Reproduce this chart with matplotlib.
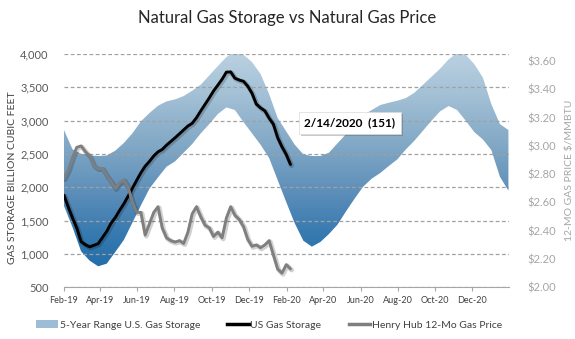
import numpy as np
import pandas as pd
import matplotlib
matplotlib.use('Agg')
import matplotlib.pyplot as plt
import matplotlib.dates as mdates
import matplotlib.patheffects as pe
from matplotlib.lines import Line2D
from matplotlib.patches import Patch

plt.rcParams['font.family'] = ['Lato', 'DejaVu Sans']

# weekly working gas in storage (Bcf) and 12-month Henry Hub strip ($/MMBtu)
week_dates = pd.date_range('2019-02-01', periods=54, freq='7D')
storage = [1882, 1705, 1539, 1390, 1186, 1139, 1107, 1130, 1155, 1247,
           1339, 1462, 1547, 1653, 1753, 1867, 1986, 2105, 2220, 2318,
           2390, 2471, 2533, 2569, 2634, 2689, 2744, 2803, 2862, 2921,
           2961, 3045, 3147, 3245, 3343, 3447, 3534, 3623, 3729, 3732,
           3638, 3610, 3591, 3518, 3411, 3250, 3192, 3148, 3039, 2947,
           2746, 2609, 2494, 2343]
price = [2.77, 2.83, 2.92, 2.99, 3.00, 2.96, 2.93, 2.86, 2.84, 2.84,
         2.79, 2.75, 2.70, 2.74, 2.76, 2.71, 2.60, 2.53, 2.53, 2.37,
         2.45, 2.53, 2.57, 2.42, 2.35, 2.33, 2.32, 2.33, 2.31, 2.39,
         2.52, 2.57, 2.50, 2.44, 2.42, 2.36, 2.39, 2.35, 2.49, 2.57,
         2.51, 2.48, 2.43, 2.34, 2.29, 2.30, 2.28, 2.30, 2.33, 2.23,
         2.13, 2.10, 2.16, 2.13]

# 5-year storage range, every two weeks
range_dates = pd.date_range('2019-02-01', periods=53, freq='14D')
range_high = [2860, 2570, 2505, 2480, 2470, 2478, 2550, 2665, 2810, 2990,
              3115, 3225, 3290, 3320, 3370, 3450, 3540, 3680, 3820, 3955,
              4030, 3990, 3880, 3700, 3400, 3040, 2840, 2640, 2495, 2470,
              2470, 2520, 2660, 2800, 2950, 3085, 3160, 3235, 3270, 3300,
              3340, 3420, 3540, 3660, 3780, 3920, 4020, 3990, 3850, 3650,
              3250, 2950, 2860]
range_low = [1720, 1400, 1040, 900, 815, 855, 1030, 1210, 1470, 1730,
             1980, 2150, 2310, 2390, 2520, 2650, 2810, 2950, 3100, 3200,
             3160, 2980, 2810, 2640, 2440, 2110, 1780, 1460, 1200, 1110,
             1180, 1300, 1440, 1640, 1830, 2010, 2130, 2215, 2320, 2420,
             2570, 2700, 2850, 3000, 3140, 3220, 3160, 3000, 2830, 2720,
             2560, 2160, 1950]

fig = plt.figure(figsize=(5.75, 3.39), dpi=100)
ax = fig.add_axes([0.1113, 0.1525, 0.774, 0.688])
ax2 = ax.twinx()

# band filled with a vertical blue gradient
band = ax.fill_between(range_dates, range_low, range_high,
                       facecolor='none', edgecolor='none')
x0 = mdates.date2num(pd.Timestamp('2019-02-01'))
x1 = mdates.date2num(pd.Timestamp('2021-01-30'))
levels = np.linspace(500, 4100, 256)
stop_v = [800, 1300, 1900, 2600, 3300, 4050]
stop_c = np.array([[35, 110, 170], [55, 122, 176], [92, 142, 185],
                   [128, 167, 197], [160, 190, 212], [188, 210, 226]]) / 255
rgb = np.stack([np.interp(levels, stop_v, stop_c[:, i]) for i in range(3)], axis=-1)
im = ax.imshow(rgb[:, None, :], extent=[x0, x1, 500, 4100], origin='lower',
               aspect='auto', interpolation='bilinear', zorder=1)
im.set_clip_path(band.get_paths()[0], ax.transData)

shadow = [pe.SimpleLineShadow(offset=(0.8, -0.8), alpha=0.18, linewidth=3.5),
          pe.Normal()]
ax.plot(week_dates, storage, color='black', lw=2.1, zorder=3,
        solid_capstyle='round', path_effects=shadow)
ax2.plot(week_dates, price, color='#7f7f7f', lw=2.1,
         solid_capstyle='round', path_effects=shadow)

ax.set_xlim(x0, x1)
ax.set_ylim(500, 4000)
ax2.set_ylim(2.0, 3.65)

ax.set_yticks(range(500, 4001, 500))
ax.set_yticklabels([f'{v:,}' for v in range(500, 4001, 500)])
ax2.set_yticks(np.arange(2.0, 3.61, 0.2))
ax2.set_yticklabels([f'${v:.2f}' for v in np.arange(2.0, 3.61, 0.2)])

ax.xaxis.set_major_locator(mdates.MonthLocator(bymonth=[2, 4, 6, 8, 10, 12]))
ax.xaxis.set_major_formatter(mdates.DateFormatter('%b-%y'))

ax.yaxis.grid(True, color='#a0a0a0', ls=(0, (3, 2)), lw=0.9)
ax.set_axisbelow(False)
for line in ax.yaxis.get_gridlines():
    line.set_zorder(2)

for a in (ax, ax2):
    for s in ('top', 'left', 'right', 'bottom'):
        a.spines[s].set_visible(False)
ax.spines['bottom'].set_visible(True)
ax.spines['bottom'].set_color('#a6a6a6')
ax.spines['bottom'].set_zorder(2)

ax.tick_params(axis='x', length=3, color='#a6a6a6', labelsize=6.5,
               labelcolor='#404040', pad=3)
ax.tick_params(axis='y', length=0, labelsize=8, labelcolor='#595959', pad=11)
ax2.tick_params(axis='y', length=0, labelsize=8, labelcolor='#a6a6a6', pad=13)

ax.set_ylabel('GAS STORAGE BILLION CUBIC FEET', fontsize=7.5, color='#404040')
ax.yaxis.set_label_coords(-0.105, 0.47)
ax2.set_ylabel('12-MO GAS PRICE $/MMBTU', fontsize=7.5, color='#a6a6a6')
ax2.yaxis.set_label_coords(1.125, 0.5)

fig.text(0.5, 0.947, 'Natural Gas Storage vs Natural Gas Price',
         ha='center', va='center', fontsize=12, color='#262626')

note = ax.text(pd.Timestamp('2020-05-14'), 2965, '2/14/2020  (151)',
               ha='center', va='center', fontsize=8.5, fontweight='bold',
               zorder=6,
               bbox=dict(boxstyle='square,pad=0.45', fc='white',
                         ec='#d9d9d9', lw=0.5))
note.get_bbox_patch().set_path_effects(
    [pe.withSimplePatchShadow(offset=(1.5, -1.5), alpha=0.3)])

handles = [Patch(facecolor='#9dbdd6', edgecolor='none'),
           Line2D([], [], color='black', lw=2.5),
           Line2D([], [], color='#7f7f7f', lw=2.5)]
labels = ['5-Year Range U.S. Gas Storage', 'US Gas Storage',
          'Henry Hub 12-Mo Gas Price']
fig.legend(handles, labels, loc='center', bbox_to_anchor=(0.468, 0.041),
           ncol=3, frameon=False, fontsize=7.5, handlelength=2.1,
           handletextpad=0.15, columnspacing=2.6, labelcolor='#404040')

fig.savefig('out.png', dpi=100)
